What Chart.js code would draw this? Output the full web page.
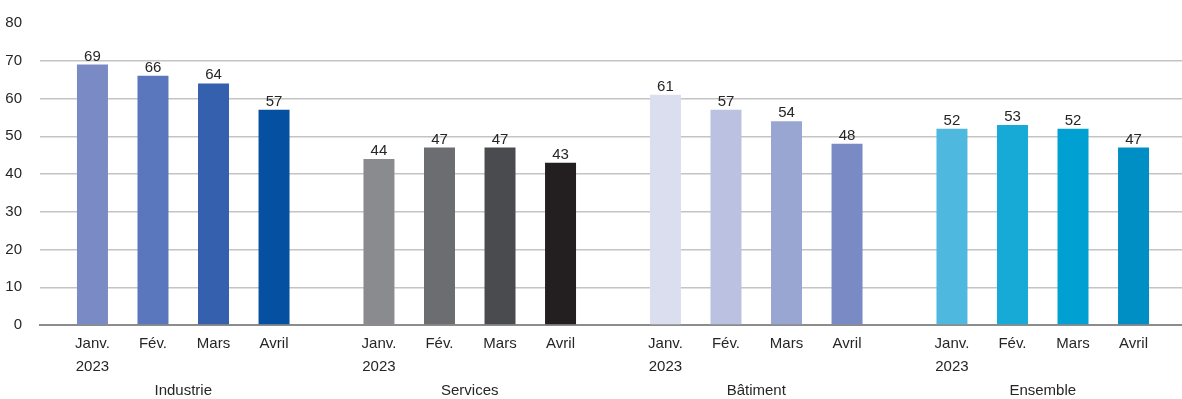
<!DOCTYPE html>
<html>
<head>
    <meta charset="utf-8">
    <title>Carnets de commandes par secteur</title>
    <script src="https://cdn.jsdelivr.net/npm/chart.js"></script>
    <style>
        body { margin: 0; overflow: hidden; background: #fff; }
    </style>
</head>
<body>
    <canvas id="sectorChart" width="1186" height="399"></canvas>
    <script>
        // Sectors on the axis, months under each bar
        const sectors = ['Industrie', 'Services', 'Bâtiment', 'Ensemble'];
        const months = [['Janv.', '2023'], ['Fév.'], ['Mars'], ['Avril']];

        // Values per sector, Janv. -> Avril 2023
        const industrie = [69, 66, 64, 57];
        const services = [44, 47, 47, 43];
        const batiment = [61, 57, 54, 48];
        const ensemble = [52, 53, 52, 47];

        // Colour shades per sector, Janv. -> Avril
        const industrieColors = ['#7a8ac4', '#5a76bd', '#3560ae', '#0550a0'];
        const servicesColors = ['#8a8b8f', '#6c6d71', '#4a4b4e', '#231f20'];
        const batimentColors = ['#dadeef', '#bbc2e1', '#9aa6d2', '#7a8ac4'];
        const ensembleColors = ['#4fb8df', '#17aad6', '#00a0d2', '#008fc5'];

        const yTicks = [0, 10, 20, 30, 40, 50, 60, 70, 80];

        const bySector = [industrie, services, batiment, ensemble];
        const colorsBySector = [industrieColors, servicesColors, batimentColors, ensembleColors];

        const font = "'Liberation Sans', Arial, sans-serif";
        const textColor = '#262626';

        // one dataset per month, one bar per sector
        const datasets = months.map((m, i) => ({
            label: m.join(' '),
            data: bySector.map(s => s[i]),
            backgroundColor: colorsBySector.map(c => c[i]),
            barPercentage: 0.512,
            categoryPercentage: 0.845,
        }));

        // value above each bar and month name below it
        const barLabels = {
            id: 'barLabels',
            afterDatasetsDraw(chart) {
                const ctx = chart.ctx;
                const bottom = chart.chartArea.bottom;
                ctx.save();
                ctx.fillStyle = textColor;
                ctx.font = '15px ' + font;
                ctx.textAlign = 'center';
                chart.data.datasets.forEach((ds, i) => {
                    chart.getDatasetMeta(i).data.forEach((bar, j) => {
                        ctx.textBaseline = 'alphabetic';
                        ctx.fillText(ds.data[j], bar.x, bar.y - 4);
                        ctx.textBaseline = 'middle';
                        months[i].forEach((line, k) => {
                            ctx.fillText(line, bar.x, bottom + 19 + k * 23);
                        });
                    });
                });
                ctx.restore();
            }
        };

        const ctx = document.getElementById('sectorChart').getContext('2d');
        const sectorChart = new Chart(ctx, {
            type: 'bar',
            data: {
                labels: sectors,
                datasets: datasets,
            },
            plugins: [barLabels],
            options: {
                responsive: false,
                animation: false,
                layout: {
                    padding: { left: 0, right: 0, top: 23, bottom: 0 },
                },
                plugins: {
                    legend: { display: false },
                    tooltip: { enabled: false },
                },
                scales: {
                    x: {
                        afterFit: axis => { axis.height = 74; },
                        grid: { display: false, drawTicks: false },
                        border: { display: true, color: '#8c8c8c', width: 2 },
                        ticks: {
                            color: textColor,
                            font: { family: font, size: 15 },
                            padding: 57,
                            maxRotation: 0,
                        },
                    },
                    y: {
                        min: 0,
                        max: 80,
                        afterFit: axis => {
                            axis.width = 40;
                            axis.paddingTop = 0;
                        },
                        afterBuildTicks: axis => {
                            axis.ticks = yTicks.map(v => ({ value: v }));
                        },
                        border: { display: false },
                        grid: {
                            drawTicks: false,
                            lineWidth: 1.5,
                            color: c => c.tick && c.tick.value === 80 ? 'rgba(0,0,0,0)' : '#c4c4c4',
                        },
                        ticks: {
                            color: textColor,
                            font: { family: font, size: 15 },
                            padding: 18,
                        },
                    },
                },
            },
        });
    </script>
</body>
</html>
